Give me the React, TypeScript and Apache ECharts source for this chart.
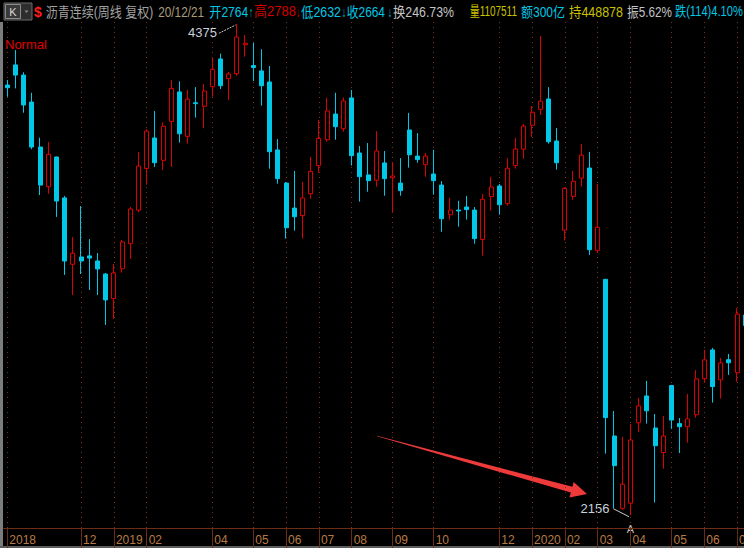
import React, { useEffect, useRef } from "react";
import * as echarts from "echarts";

// Weekly OHLC (沥青连续, 周线)
const opens = [
  4099, 4190, 4144, 4022, 3819, 3640, 3774, 3589, 3289, 3322,
  3327, 3304, 3245, 3134, 3269, 3382, 3534, 3722, 3860, 3759,
  3935, 4068, 3867, 4019, 4003, 4092, 4217, 4128, 4150, 4281,
  4187, 4163, 4113, 3806, 3656, 3543, 3509, 3608, 3735, 3852,
  3968, 3902, 4041, 3792, 3693, 3669, 3747, 3680, 3656, 3896,
  3778, 3739, 3697, 3647, 3513, 3534, 3548, 3534, 3401, 3595,
  3643, 3563, 3735, 3809, 3917, 3989, 4036, 3846, 3443, 3596,
  3678, 3724, 3352, 3221, 2513, 2186, 2209, 2573, 2694, 2549,
  2438, 2741, 2569, 2555, 2609, 2772, 2902, 2767, 2858, 2799,
  3060,
];
const closes = [
  4087, 4144, 4009, 3819, 3647, 3786, 3575, 3304, 3339, 3304,
  3317, 3268, 3128, 3250, 3390, 3539, 3733, 3891, 3748, 3913,
  4084, 3879, 4035, 4015, 4072, 4170, 4096, 4149, 4316, 4288,
  4178, 4096, 3798, 3676, 3454, 3504, 3589, 3709, 3858, 3982,
  3911, 4027, 3780, 3685, 3667, 3801, 3676, 3688, 3622, 3784,
  3762, 3778, 3667, 3495, 3534, 3530, 3536, 3405, 3583, 3638,
  3558, 3723, 3810, 3913, 3976, 4026, 3843, 3748, 3632, 3664,
  3782, 3355, 3456, 2596, 2379, 2295, 2495, 2649, 2627, 2469,
  2513, 2585, 2555, 2590, 2771, 2857, 2736, 2843, 2844, 3064,
  3012,
];
const lows = [
  4046, 4084, 3974, 3809, 3602, 3608, 3503, 3241, 3150, 3245,
  3173, 3150, 3015, 3042, 3251, 3313, 3525, 3649, 3729, 3715,
  3729, 3839, 3834, 3952, 3904, 4046, 4081, 4032, 4141, 4227,
  4117, 4006, 3721, 3653, 3405, 3441, 3405, 3585, 3703, 3843,
  3852, 3888, 3735, 3572, 3617, 3640, 3599, 3522, 3599, 3726,
  3748, 3685, 3604, 3436, 3491, 3459, 3491, 3382, 3328, 3531,
  3513, 3554, 3721, 3766, 3864, 3964, 3834, 3717, 3396, 3581,
  3640, 3331, 3341, 2433, 2186, 2179, 2156, 2531, 2569, 2212,
  2365, 2545, 2436, 2483, 2596, 2754, 2664, 2682, 2789, 2758,
  2990,
];
const highs = [
  4122, 4257, 4157, 4064, 3861, 3842, 3775, 3598, 3412, 3552,
  3403, 3340, 3250, 3290, 3399, 3548, 3797, 3900, 3982, 3931,
  4121, 4116, 4077, 4090, 4104, 4221, 4241, 4158, 4375, 4325,
  4290, 4261, 4185, 3855, 3661, 3711, 3662, 3774, 3941, 4042,
  4064, 4042, 4077, 3824, 3837, 3891, 3801, 3751, 3769, 3973,
  3882, 3792, 3806, 3665, 3590, 3576, 3598, 3548, 3607, 3684,
  3652, 3769, 3860, 3923, 4004, 4321, 4090, 3905, 3637, 3711,
  3833, 3797, 3652, 3223, 2626, 2509, 2567, 2685, 2762, 2612,
  2603, 2744, 2594, 2703, 2811, 2902, 2911, 2866, 2884, 3092,
  3075,
];

// Month tick labels: [bar index, label]
const monthMarks: [number, string][] = [
  [0, "2018"], [9, "12"], [13, "2019"], [17, "02"], [25, "04"], [30, "05"],
  [34, "06"], [38, "07"], [42, "08"], [47, "09"], [52, "10"], [60, "12"],
  [64, "2020"], [68, "02"], [72, "03"], [76, "04"], [81, "05"], [85, "06"],
  [89, "07"],
];

// Header segments
const headerSegments: { text: string; x0: number; x1: number; color: string }[] = [
  { text: "沥青连续(周线 复权)", x0: 45.7, x1: 153.3, color: "#a2a2a2" },
  { text: "20/12/21", x0: 158.3, x1: 204, color: "#a89a7c" },
  { text: "开2764", x0: 209.3, x1: 248.3, color: "#00c8e6" },
  { text: "↑", x0: 249, x1: 253, color: "#00c8b4" },
  { text: "高2788", x0: 254, x1: 296, color: "#d40000" },
  { text: "↓", x0: 296.5, x1: 300, color: "#d40000" },
  { text: "低2632", x0: 301, x1: 341, color: "#00c8e6" },
  { text: "↓", x0: 342, x1: 346, color: "#00c8e6" },
  { text: "收2664", x0: 346.7, x1: 385, color: "#00c8e6" },
  { text: "↓", x0: 388, x1: 392, color: "#00c8e6" },
  { text: "换246.73%", x0: 393, x1: 454, color: "#c4c4c4" },
  { text: "量1107511", x0: 469.7, x1: 517, color: "#c8c000" },
  { text: "额300亿", x0: 521, x1: 565, color: "#00c8e6" },
  { text: "持448878", x0: 569, x1: 623, color: "#c8c000" },
  { text: "振5.62%", x0: 627, x1: 672, color: "#c4c4c4" },
  { text: "跌(114)4.10%", x0: 675, x1: 743, color: "#00c8e6" },
];

const UP = "#dc0000";
const DOWN = "#00c8e6";
const GRIDC = "#7a3618";
const AXISC = "#6e2c14";

export default function App() {
  const ref = useRef<HTMLDivElement>(null);
  useEffect(() => {
    const el = ref.current!;
    const chart = echarts.init(el, null, { renderer: "svg" });
    const categories = opens.map((_, i) => String(i));
    const markIdx = new Set(monthMarks.map((m) => m[0]));
    const markLabel = new Map(monthMarks);
    const band = 8.2;
    const firstCenter = 7.3;

    chart.setOption({
      animation: false,
      backgroundColor: "#000000",
      grid: {
        left: firstCenter - band / 2,
        top: 22,
        width: band * opens.length,
        height: 506,
        containLabel: false,
        outerBoundsMode: "none",
      },
      xAxis: {
        type: "category",
        data: categories,
        boundaryGap: true,
        axisLine: { show: true, lineStyle: { color: AXISC, width: 1 } },
        axisTick: {
          show: true,
          alignWithLabel: true,
          interval: (i: number) => markIdx.has(i),
          length: 20,
          lineStyle: { color: AXISC, width: 1 },
        },
        axisLabel: {
          show: true,
          interval: (i: number) => markIdx.has(i),
          formatter: (_v: string, i: number) => markLabel.get(i) ?? "",
          align: "left",
          verticalAlign: "middle",
          margin: 12,
          padding: [0, 0, 0, 2],
          color: "#b87a44",
          fontSize: 12,
          fontFamily: "Liberation Sans",
        },
        splitLine: { show: false },
      },
      yAxis: {
        type: "value",
        show: false,
        min: 2097.2,
        max: 4384,
        splitLine: { show: false },
      },
      series: [
        {
          type: "candlestick",
          data: opens.map((o, i) => [o, closes[i], lows[i], highs[i]]),
          barWidth: 4.4,
          clip: false,
          itemStyle: {
            color: "#000000",
            color0: DOWN,
            borderColor: UP,
            borderColor0: DOWN,
            borderWidth: 1,
          },
          markLine: {
            silent: true,
            z: 1,
            symbol: ["none", "none"],
            label: { show: false },
            lineStyle: { color: GRIDC, type: [1, 4], width: 1 },
            emphasis: { disabled: true },
            data: monthMarks.map((m) => ({ xAxis: categories[m[0]] })),
          },
        },
      ],
    });

    // measure helper for header fitting
    const ctx = document.createElement("canvas").getContext("2d")!;
    const headFont = '14px "Liberation Sans", "Noto Sans CJK SC", sans-serif';
    ctx.font = headFont;

    const graphics: any[] = [];
    // left and bottom frame
    graphics.push({ type: "rect", shape: { x: 0, y: 22, width: 3, height: 526 }, style: { fill: "#7c7c7c" } });
    graphics.push({ type: "rect", shape: { x: 0, y: 546, width: 744, height: 2 }, style: { fill: "#5c5c5c" } });
    // K button
    graphics.push({ type: "rect", shape: { x: 4, y: 3, width: 28, height: 17 }, style: { fill: "#2e2e2e", stroke: "#6a6a6a", lineWidth: 1 } });
    graphics.push({ type: "rect", shape: { x: 5.5, y: 4.5, width: 15, height: 14 }, style: { fill: "#3a3a3a", stroke: "#8c8c8c", lineWidth: 1 } });
    graphics.push({ type: "text", x: 13, y: 11.8, style: { text: "K", fill: "#d8d8d8", font: '11px "Liberation Sans"', align: "center", verticalAlign: "middle" } });
    graphics.push({ type: "polygon", shape: { points: [[24.5, 10.5], [28.5, 10.5], [26.5, 13]] }, style: { fill: "#8a8a8a" } });
    // $ sign
    graphics.push({ type: "text", x: 38, y: 11.8, style: { text: "$", fill: "#ff1e1e", font: 'bold 14px "Liberation Sans"', align: "center", verticalAlign: "middle" } });
    // header texts
    headerSegments.forEach((s) => {
      const w = ctx.measureText(s.text).width || 1;
      const sx = (s.x1 - s.x0) / w;
      graphics.push({
        type: "text",
        x: s.x0,
        y: 11.8,
        scaleX: sx,
        style: { text: s.text, fill: s.color, font: headFont, align: "left", verticalAlign: "middle" },
      });
    });
    // Normal
    graphics.push({ type: "text", x: 5, y: 44.5, style: { text: "Normal", fill: "#e00000", font: '13px "Liberation Sans"', align: "left", verticalAlign: "middle" } });

    // max / min annotations
    const hiVal = Math.max(...highs);
    const hiIdx = highs.indexOf(hiVal);
    const loVal = Math.min(...lows);
    const loIdx = lows.indexOf(loVal);
    const hp = chart.convertToPixel({ gridIndex: 0 }, [hiIdx, hiVal]) as number[];
    const lp = chart.convertToPixel({ gridIndex: 0 }, [loIdx, loVal]) as number[];
    const annFont = '13px "Liberation Sans"';
    graphics.push({ type: "text", x: hp[0] - 20, y: hp[1] + 8.5, style: { text: String(hiVal), fill: "#c8d0dc", font: annFont, align: "right", verticalAlign: "middle" } });
    graphics.push({ type: "line", shape: { x1: hp[0] - 18, y1: hp[1] + 9.3, x2: hp[0] - 1.3, y2: hp[1] + 1 }, style: { stroke: "#c8c8c8", lineWidth: 1, lineDash: [2, 1] } });
    graphics.push({ type: "text", x: lp[0] - 21, y: lp[1] - 6.5, style: { text: String(loVal), fill: "#c8d0dc", font: annFont, align: "right", verticalAlign: "middle" } });
    graphics.push({ type: "line", shape: { x1: lp[0] - 17.2, y1: lp[1] - 6.3, x2: lp[0] - 1.5, y2: lp[1] + 1.7 }, style: { stroke: "#c8c8c8", lineWidth: 1 } });
    graphics.push({ type: "text", x: lp[0], y: lp[1] + 14, style: { text: "A", fill: "#bcbcbc", font: '11px "Liberation Sans"', align: "center", verticalAlign: "middle" } });
    // red arrow pointing at the low
    const tx = lp[0] - 43.5;
    const ty = lp[1] - 21;
    const rel = [[-210, -58.3], [-14.6, -7.2], [-13.3, -12], [0, 0], [-17.5, 3.4], [-16.2, -1.4], [-210, -57.7]];
    graphics.push({ type: "polygon", shape: { points: rel.map((p) => [tx + p[0], ty + p[1]]) }, style: { fill: "#ee3a3a" } });

    chart.setOption({ graphic: graphics });

    return () => chart.dispose();
  }, []);

  return (
    <div
      ref={ref}
      style={{ position: "absolute", left: 0, top: 0, width: 744, height: 548, background: "#000" }}
    />
  );
}
